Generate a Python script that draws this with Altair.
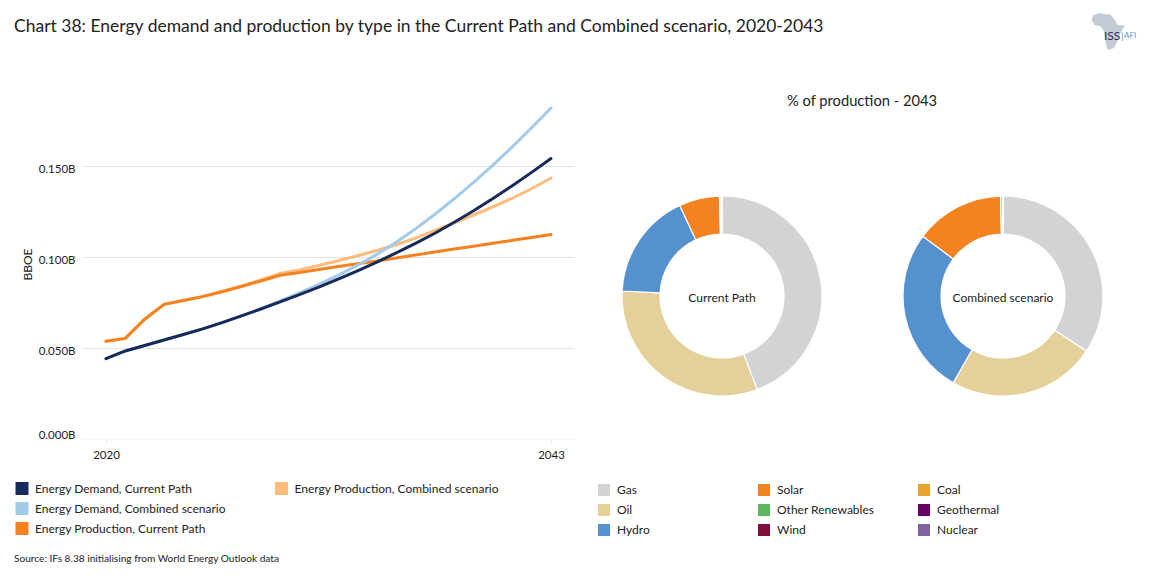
import altair as alt
import pandas as pd

FONT = "Lato"
years = list(range(2020, 2044))
demand_current = [.0443,.0485,.0515,.0545,.0575,.0606,.0640,.0677,.0715,.0754,.0794,.0835,.0879,.0925,.0973,.1023,.1075,.1131,.1191,.1254,.1321,.1392,.1465,.1541]
demand_combined = [.0443,.0485,.0515,.0545,.0575,.0606,.0640,.0677,.0716,.0759,.0803,.0850,.0900,.0955,.1015,.1082,.1155,.1235,.1320,.1410,.1505,.1605,.1710,.1818]
production_current = [.0538,.0554,.0659,.0741,.0762,.0783,.0810,.0839,.0869,.0900,.0915,.0932,.0948,.0964,.0979,.0995,.1012,.1028,.1044,.1060,.1076,.1092,.1108,.1124]
production_combined = [.0538,.0554,.0659,.0741,.0762,.0784,.0812,.0842,.0875,.0910,.0930,.0954,.0980,.1007,.1036,.1068,.1104,.1146,.1188,.1231,.1276,.1323,.1375,.1434]

line_names = ["Energy Demand, Current Path", "Energy Demand, Combined scenario", "Energy Production, Current Path"]
line_colors = ["#172a5a", "#a1cbe8", "#f58220"]
extra_name = "Energy Production, Combined scenario"
extra_color = "#fdbb7c"

sources = ["Gas", "Oil", "Hydro", "Solar", "Other Renewables", "Wind", "Coal", "Geothermal", "Nuclear"]
source_colors = ["#d1d3d4", "#e6d09a", "#5590cf", "#f58220", "#5cb85c", "#7f0e3a", "#e8a22e", "#660066", "#8064a2"]
share_current = [44.3, 31.5, 17.25, 6.55, .25, .05, .05, .03, .02]
share_combined = [34.3, 24.0, 26.9, 14.4, .3, .04, .03, .02, .01]

W, H = 1138, 567
x_scale = alt.Scale(domain=[2018.76, 2044.19], range=[74, 566])
y_scale = alt.Scale(domain=[0, 0.15], range=[431.3, 158])

lines = pd.DataFrame(
    [{"year": y, "value": v, "series": line_names[2]} for y, v in zip(years, production_current)]
    + [{"year": y, "value": v, "series": line_names[1]} for y, v in zip(years, demand_combined)]
    + [{"year": y, "value": v, "series": line_names[0]} for y, v in zip(years, demand_current)]
)
extra = pd.DataFrame({"year": years, "value": production_combined, "series": extra_name})

line_legend = dict(
    title=None, orient="none", symbolType="stroke", symbolSize=169, symbolStrokeWidth=13,
    labelFont=FONT, labelFontSize=12, labelColor="#222222", rowPadding=7, labelOffset=0,
    padding=0, symbolOffset=0, clipHeight=13, labelLimit=320,
)

x_enc = alt.X("year:Q", scale=x_scale, title=None, axis=alt.Axis(
    values=[2020, 2043], format="d", grid=False, domain=False, ticks=True, tickColor="#ececec",
    tickSize=4, labelFont=FONT, labelFontSize=11.5, labelColor="#222222", labelPadding=6,
    labelFlush=False, offset=431.3 - H))
y_enc = alt.Y("value:Q", scale=y_scale, axis=alt.Axis(
    values=[0, .05, .1, .15], format=".3f", labelExpr="format(datum.value, '.3f') + 'B'",
    grid=True, gridColor=alt.condition("datum.value === 0", alt.value("#f6f6f6"), alt.value("#e4e4e4")),
    domain=False, ticks=False, labelFont=FONT, labelFontSize=11.5, labelColor="#222222",
    labelBaseline="middle", labelOffset=alt.condition("datum.value === 0", alt.value(-4), alt.value(3)),
    labelPadding=7, offset=-74, title="BBOE", titleFont=FONT,
    titleFontSize=12, titleFontWeight="normal", titleColor="#222222", titleX=-48, titleY=256))

extra_line = alt.Chart(extra).mark_line(strokeWidth=3, strokeCap="round", clip=False).encode(
    x=x_enc, y=y_enc,
    color=alt.Color("series:N", scale=alt.Scale(domain=[extra_name], range=[extra_color]),
                    legend=alt.Legend(legendX=260.5, legendY=474, **line_legend)),
)
main_lines = alt.Chart(lines).mark_line(strokeWidth=3, strokeCap="round", clip=False).encode(
    x=x_enc, y=y_enc,
    color=alt.Color("series:N", scale=alt.Scale(domain=line_names, range=line_colors),
                    legend=alt.Legend(legendX=1, legendY=474, **line_legend)),
)


def label(text, x, y, size=12, align="left", color="#222222", weight="normal"):
    return alt.Chart(pd.DataFrame({"t": [text]})).mark_text(
        font=FONT, fontSize=size, align=align, baseline="middle", color=color, fontWeight=weight
    ).encode(text="t:N", x=alt.value(x), y=alt.value(y))


def donut(name, shares, cx, legend):
    df = pd.DataFrame({"source": sources, "share": shares, "rank": range(len(sources))})
    arc = alt.Chart(df).mark_arc(radius=100, radius2=62, stroke="white", strokeWidth=1.2).encode(
        theta=alt.Theta("share:Q", stack=True, scale=alt.Scale(domain=[0, 100])),
        order=alt.Order("rank:Q"),
        color=alt.Color("source:N", scale=alt.Scale(domain=sources, range=source_colors), legend=legend),
        x=alt.value(cx), y=alt.value(288),
    )
    return arc + label(name, cx, 290, size=12, align="center")


source_legend = alt.Legend(
    title=None, orient="none", legendX=590, legendY=476, columns=3, symbolType="square",
    symbolSize=144, symbolStrokeWidth=0, labelFont=FONT, labelFontSize=12, labelColor="#222222",
    rowPadding=8, columnPadding=43, labelOffset=7, gridAlign="all", padding=0,
)

africa = alt.Chart(pd.DataFrame({"n": ["ISS"]})).mark_point(
    shape="M-.54,-1L.1,-.94L.36,-.64L.5,-.36L.9,-.34L.6,.18L.5,.54L.28,.9L-.04,.98L-.18,.46L-.22,0L-.42,-.3L-.76,-.36L-.92,-.68L-.82,-.9Z",
    filled=True, color="#c3cad3", opacity=1, size=1344,
).encode(x=alt.value(1100.3), y=alt.value(23.7))

chart = alt.layer(
    extra_line, main_lines,
    donut("Current Path", share_current, 714, source_legend),
    donut("Combined scenario", share_combined, 995, None),
    label("Chart 38: Energy demand and production by type in the Current Path and Combined scenario, 2020-2043", 6, 18.5, size=17.5),
    label("% of production - 2043", 854, 94, size=14.7, align="center"),
    label("Source: IFs 8.38 initialising from World Energy Outlook data", 6, 551, size=10.15),
    africa,
    label("ISS", 1096, 28, size=12, color="#1b2f5b"),
    label("|", 1113, 28, size=10, color="#5b9bd0"),
    label("AFI", 1116, 28, size=8, color="#5b9bd0"),
).resolve_scale(color="independent", theta="independent").properties(
    width=W, height=H, padding=0, background="white", autosize=alt.AutoSizeParams(type="none"),
).configure_view(stroke=None)

chart.save("out.html", embed_options={"renderer": "svg", "actions": False})
